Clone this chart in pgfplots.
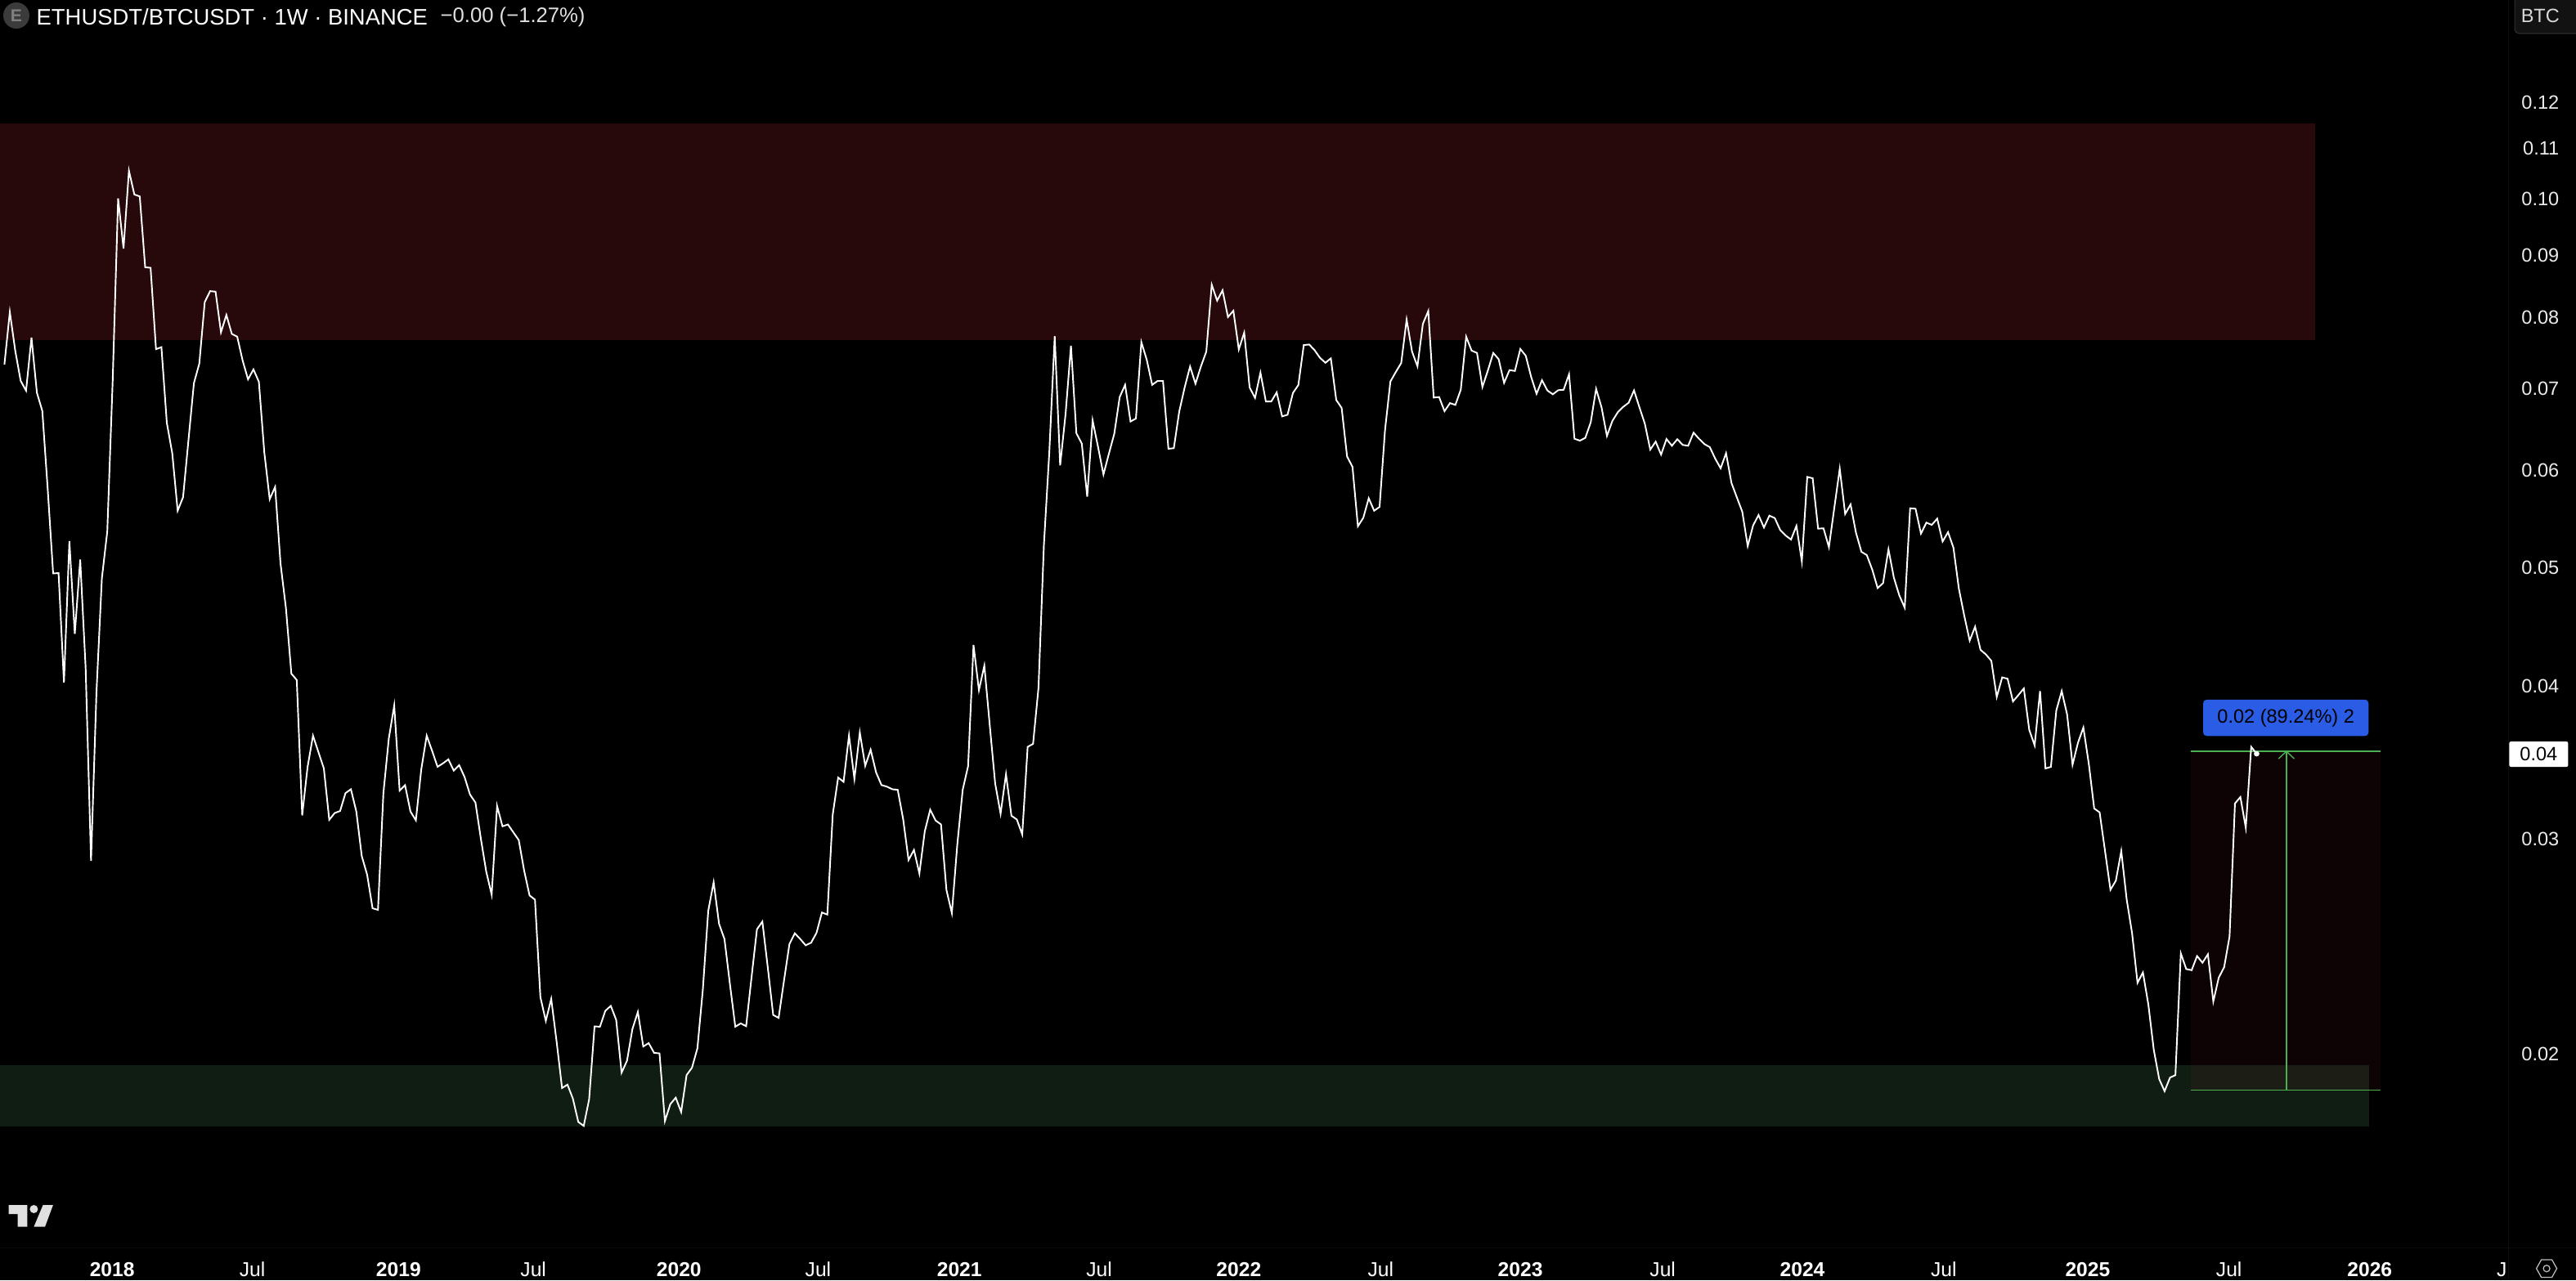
\documentclass[border=0pt]{standalone}
\usepackage{fontspec}
\setmainfont{Liberation Sans}
\usepackage{pgfplots}
\usepackage{pgfplotstable}
\pgfplotsset{compat=1.18}

\definecolor{tvgreen}{HTML}{4CAF50}
\definecolor{tvred}{HTML}{F23645}
\definecolor{zonegreen}{HTML}{0F1D12}
\definecolor{tvblue}{HTML}{2A5CE6}
\definecolor{tvline}{HTML}{0C0C0C}

% weekly close, week 0 = mid Aug 2017
\pgfplotstableread{
week price
0 .07313
1 .08072
2 .07506
3 .07091
4 .06961
5 .07691
6 .06935
7 .06700
8 .05781
9 .04935
10 .04938
11 .04019
12 .05244
13 .04404
14 .05065
15 .04133
16 .02873
17 .03945
18 .04889
19 .05341
20 .07100
21 .09995
22 .09096
23 .10530
24 .10069
25 .10032
26 .08780
27 .08772
28 .07527
29 .07555
30 .06551
31 .06188
32 .05554
33 .05697
34 .06346
35 .07059
36 .07326
37 .08224
38 .08395
39 .08386
40 .07769
41 .08027
42 .07747
43 .07705
44 .07367
45 .07111
46 .07245
47 .07078
48 .06200
49 .05675
50 .05808
51 .05027
52 .04623
53 .04087
54 .04038
55 .03130
56 .03430
57 .03637
58 .03526
59 .03420
60 .03104
61 .03144
62 .03156
63 .03264
64 .03288
65 .03153
66 .02900
67 .02799
68 .02628
69 .02620
70 .03264
71 .03617
72 .03850
73 .03279
74 .03313
75 .03153
76 .03101
77 .03414
78 .03637
79 .03534
80 .03430
81 .03452
82 .03478
83 .03405
84 .03440
85 .03364
86 .03255
87 .03207
88 .02996
89 .02815
90 .02696
91 .03186
92 .03066
93 .03077
94 .03032
95 .02988
96 .02821
97 .02692
98 .02671
99 .02223
100 .02126
101 .02216
102 .02044
103 .01874
104 .01886
105 .01837
106 .01758
107 .01745
108 .01834
109 .02104
110 .02103
111 .02167
112 .02187
113 .02130
114 .01929
115 .01973
116 .02094
117 .02162
118 .02026
119 .02039
120 .02002
121 .02000
122 .01761
123 .01818
124 .01840
125 .01791
126 .01920
127 .01947
128 .02019
129 .02254
130 .02615
131 .02760
132 .02552
133 .02480
134 .02280
135 .02103
136 .02116
137 .02105
138 .02308
139 .02526
140 .02563
141 .02351
142 .02150
143 .02138
144 .02294
145 .02457
146 .02507
147 .02480
148 .02451
149 .02463
150 .02509
151 .02607
152 .02597
153 .03136
154 .03361
155 .03334
156 .03638
157 .03352
158 .03658
159 .03436
160 .03542
161 .03394
162 .03314
163 .03304
164 .03288
165 .03284
166 .03109
167 .02878
168 .02933
169 .02806
170 .03038
171 .03164
172 .03100
173 .03077
174 .02720
175 .02604
176 .02961
177 .03284
178 .03434
179 .04313
180 .03962
181 .04149
182 .03709
183 .03324
184 .03140
185 .03382
186 .03128
187 .03106
188 .03020
189 .03561
190 .03581
191 .03979
192 .05206
193 .06200
194 .07714
195 .06047
196 .06659
197 .07577
198 .06425
199 .06301
200 .05703
201 .06582
202 .06262
203 .05945
204 .06181
205 .06418
206 .06878
207 .07038
208 .06568
209 .06605
210 .07628
211 .07378
212 .07038
213 .07089
214 .07089
215 .06240
216 .06247
217 .06694
218 .07003
219 .07285
220 .07053
221 .07285
222 .07492
223 .08497
224 .08246
225 .08408
226 .07996
227 .08091
228 .07523
229 .07765
230 .07003
231 .06867
232 .07202
233 .06821
234 .06821
235 .06938
236 .06632
237 .06652
238 .06931
239 .07035
240 .07585
241 .07593
242 .07512
243 .07404
244 .07336
245 .07397
246 .06840
247 .06738
248 .06150
249 .06031
250 .05393
251 .05480
252 .05685
253 .05553
254 .05593
255 .06457
256 .07082
257 .07210
258 .07333
259 .07958
260 .07492
261 .07288
262 .07894
263 .08087
264 .06871
265 .06878
266 .06697
267 .06800
268 .06777
269 .06973
270 .07706
271 .07507
272 .07473
273 .07010
274 .07229
275 .07473
276 .07386
277 .07064
278 .07235
279 .07224
280 .07530
281 .07435
282 .07144
283 .06920
284 .07100
285 .06963
286 .06914
287 .06967
288 .06973
289 .07180
290 .06359
291 .06336
292 .06369
293 .06557
294 .06984
295 .06746
296 .06392
297 .06575
298 .06683
299 .06752
300 .06804
301 .06964
302 .06746
303 .06541
304 .06230
305 .06324
306 .06172
307 .06356
308 .06275
309 .06353
310 .06285
311 .06275
312 .06432
313 .06359
314 .06295
315 .06259
316 .06125
317 .06015
318 .06188
319 .05851
320 .05694
321 .05542
322 .05196
323 .05402
324 .05508
325 .05380
326 .05502
327 .05477
328 .05355
329 .05300
330 .05260
331 .05397
332 .05048
333 .05918
334 .05903
335 .05369
336 .05372
337 .05185
338 .05585
339 .06010
340 .05519
341 .05619
342 .05327
343 .05140
344 .05108
345 .04971
346 .04801
347 .04846
348 .05164
349 .04895
350 .04735
351 .04627
352 .05579
353 .05574
354 .05319
355 .05430
356 .05407
357 .05471
358 .05241
359 .05333
360 .05180
361 .04796
362 .04557
363 .04349
364 .04464
365 .04274
366 .04237
367 .04186
368 .03912
369 .04058
370 .04048
371 .03879
372 .03926
373 .03975
374 .03677
375 .03571
376 .03956
377 .03419
378 .03429
379 .03814
380 .03956
381 .03784
382 .03443
383 .03589
384 .03693
385 .03450
386 .03171
387 .03148
388 .02927
389 .02721
390 .02768
391 .02927
392 .02672
393 .02507
394 .02284
395 .02329
396 .02193
397 .02014
398 .01906
399 .01863
400 .01911
401 .01920
402 .02414
403 .02344
404 .02339
405 .02402
406 .02372
407 .02410
408 .02205
409 .02306
410 .02352
411 .02492
412 .03201
413 .03240
414 .03058
415 .03561
416 .03515
}\ethbtc

\begin{document}
\begin{tikzpicture}
\useasboundingbox (0,0) rectangle (31.5cm,15.66cm);
\fill[black] (0,0) rectangle (31.5cm,15.66cm);
\begin{axis}[
    at={(0,0)}, anchor=south west,
    width=31.5cm, height=15.66cm, scale only axis,
    xmin=-0.816, xmax=475.0,
    ymode=log, ymin=0.01305, ymax=0.14518,
    axis line style={draw=none},
    tick style={draw=none},
    minor tick num=0,
    log ticks with fixed point,
    axis y line*=right,
    axis x line*=bottom,
    xtick={19.9,45.8,72.8,97.7,124.6,150.3,176.4,202.2,228.0,254.2,280.0,306.3,332.1,358.2,384.8,410.9,436.9,461.3},
    xticklabels={\textbf{2018},Jul,\textbf{2019},Jul,\textbf{2020},Jul,\textbf{2021},Jul,\textbf{2022},Jul,\textbf{2023},Jul,\textbf{2024},Jul,\textbf{2025},Jul,\textbf{2026},J},
    ytick={0.02,0.03,0.04,0.05,0.06,0.07,0.08,0.09,0.10,0.11,0.12},
    yticklabels={0.02,0.03,0.04,0.05,0.06,0.07,0.08,0.09,0.10,0.11,0.12},
    xticklabel style={font=\fontsize{7}{8}\selectfont, text=white, anchor=center, yshift=3.7pt},
    yticklabel style={font=\fontsize{6.7}{8}\selectfont, text=white!92!black, anchor=east, inner sep=0pt, xshift=-5.7pt, yshift=-0.3pt},
    clip=true,
  ]
  % supply and resistance zones
  \addplot[fill=tvred, fill opacity=0.17, draw=none] coordinates {(-0.816,0.1151) (426.8,0.1151) (426.8,0.07656) (-0.816,0.07656)} -- cycle;
  \addplot[fill=zonegreen, draw=none] coordinates {(-0.816,0.01956) (436.8,0.01956) (436.8,0.01744) (-0.816,0.01744)} -- cycle;
  % long position box
  \addplot[fill=tvred, fill opacity=0.06, draw=none] coordinates {(403.9,0.03531) (438.9,0.03531) (438.9,0.01866) (403.9,0.01866)} -- cycle;
  \addplot[tvgreen, line width=0.4pt] coordinates {(403.9,0.03531) (438.9,0.03531)};
  \addplot[tvgreen, line width=0.4pt] coordinates {(403.9,0.01866) (438.9,0.01866)};
  \addplot[tvgreen, line width=0.4pt] coordinates {(421.5,0.01866) (421.5,0.03531)};
  \addplot[tvgreen, line width=0.4pt] coordinates {(420.05,0.03482) (421.5,0.03531) (422.95,0.03482)};
  % price
  \addplot[white, line width=0.55pt, line join=miter] table[x=week, y=price] {\ethbtc};
  \addplot[only marks, mark=*, mark size=0.75pt, white] coordinates {(416,0.03515)};
  \node[fill=tvblue, rounded corners=1.2pt, minimum width=5.72cm/2.83*2.83*0.3534, minimum height=1.27mm*3.5, inner sep=0pt, text=black, font=\fontsize{6.7}{8}\selectfont] at (axis cs:421.4,0.03761) {0.02 (89.24\%) 2};
  \node[fill=white, rounded corners=0.6pt, minimum width=7.2mm, minimum height=3.1mm, inner sep=0pt, text=black, font=\fontsize{6.7}{8}\selectfont] at (axis cs:468.1,0.03512) {0.04};
\end{axis}
% chart furniture, in image pixels
\begin{scope}[shift={(0,15.66cm)}, x=0.1mm, y=-0.1mm]
  \draw[tvline, line width=0.3pt] (3067,0) -- (3067,1566);
  \draw[tvline, line width=0.3pt] (0,1526) -- (3150,1526);
  \fill[white!23!black] (20,19) circle (16);
  \node[text=white!50!black, font=\fontsize{6}{7}\selectfont\bfseries] at (20,19) {E};
  \node[anchor=west, inner sep=0pt, text=white, font=\fontsize{7.8}{10}\selectfont] at (44,20.5) {ETHUSDT/BTCUSDT · 1W · BINANCE};
  \node[anchor=west, inner sep=0pt, text=white!88!black, font=\fontsize{7.3}{10}\selectfont] at (538,20.5) {−0.00 (−1.27\%)};
  \filldraw[fill=white!7!black, draw=white!18!black, line width=0.3pt, rounded corners=1.5pt] (3075,-5) rectangle (3160,41);
  \node[anchor=west, inner sep=0pt, text=white!85!black, font=\fontsize{6.7}{8}\selectfont] at (3082,19) {BTC};
  % logo
  \fill[white!88!black] (10.5,1474) -- (33.3,1474) -- (33.3,1500.7) -- (21.7,1500.7) -- (21.7,1485) -- (10.5,1485) -- cycle;
  \fill[white!88!black] (41.4,1479) circle (5);
  \fill[white!88!black] (52.6,1474) -- (64.9,1474) -- (55,1500.7) -- (41.4,1500.7) -- cycle;
  % settings icon
  \draw[white!75!black, line width=0.35pt] (3101.5,1551.7) -- (3107.5,1541) -- (3120.5,1541) -- (3126.5,1551.7) -- (3120.5,1562.4) -- (3107.5,1562.4) -- cycle;
  \draw[white!75!black, line width=0.35pt] (3114,1551.7) circle (4);
\end{scope}
\end{tikzpicture}
\end{document}
